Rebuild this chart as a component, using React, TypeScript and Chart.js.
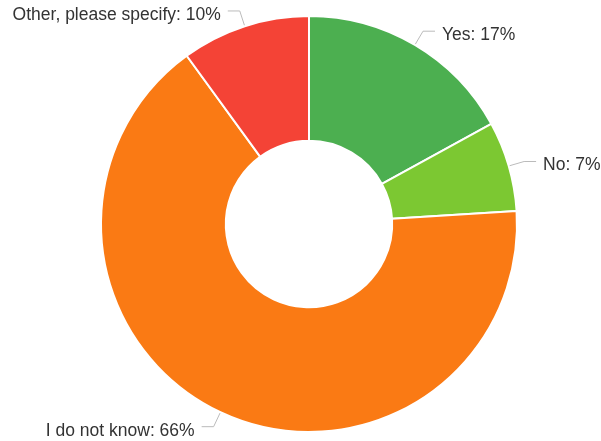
import React, { useEffect, useRef } from "react";
import { Chart, registerables } from "chart.js";

Chart.register(...registerables);

const categories = ["Yes", "No", "I do not know", "Other, please specify"];
const values = [17, 7, 66, 10];
const colors = ["#4CAF50", "#7CC832", "#FA7A14", "#F44336"];

const labelPlugin = {
  id: "outLabels",
  afterDatasetsDraw(chart: any) {
    const ctx = chart.ctx;
    const meta = chart.getDatasetMeta(0);
    ctx.save();
    ctx.font = '17.5px "Liberation Sans", Arial, sans-serif';
    ctx.textBaseline = "middle";
    meta.data.forEach((arc: any, i: number) => {
      const { x, y, startAngle, endAngle, outerRadius } = arc.getProps(
        ["x", "y", "startAngle", "endAngle", "outerRadius"],
        true
      );
      const mid = (startAngle + endAngle) / 2;
      const c = Math.cos(mid);
      const s = Math.sin(mid);
      const x0 = x + c * (outerRadius + 1);
      const y0 = y + s * (outerRadius + 1);
      const x1 = x + c * (outerRadius + 16);
      const y1 = y + s * (outerRadius + 16);
      const dir = c >= 0 ? 1 : -1;
      const x2 = x1 + dir * 12;
      ctx.strokeStyle = "#bbbbbb";
      ctx.lineWidth = 1;
      ctx.beginPath();
      ctx.moveTo(x0, y0);
      ctx.lineTo(x1, y1);
      ctx.lineTo(x2, y1);
      ctx.stroke();
      ctx.fillStyle = "#333333";
      ctx.textAlign = dir > 0 ? "left" : "right";
      const text = `${chart.data.labels[i]}: ${chart.data.datasets[0].data[i]}%`;
      ctx.fillText(text, x2 + dir * 7, y1 + 4);
    });
    ctx.restore();
  },
};

export default function App() {
  const ref = useRef<HTMLCanvasElement | null>(null);
  useEffect(() => {
    if (!ref.current) return;
    const chart = new Chart(ref.current, {
      type: "doughnut",
      data: {
        labels: categories,
        datasets: [
          {
            data: values,
            backgroundColor: colors,
            borderColor: "#ffffff",
            borderWidth: 2,
            hoverOffset: 0,
          },
        ],
      },
      options: {
        responsive: false,
        animation: false,
        cutout: "40%",
        layout: { padding: { left: 100, right: 83, top: 15, bottom: 8 } },
        plugins: {
          legend: { display: false },
          tooltip: { enabled: false },
        },
      },
      plugins: [labelPlugin],
    });
    return () => chart.destroy();
  }, []);
  return (
    <div style={{ position: "fixed", left: 0, top: 0, width: 601, height: 441, background: "#fff" }}>
      <canvas ref={ref} width={601} height={441} style={{ width: 601, height: 441 }} />
    </div>
  );
}
